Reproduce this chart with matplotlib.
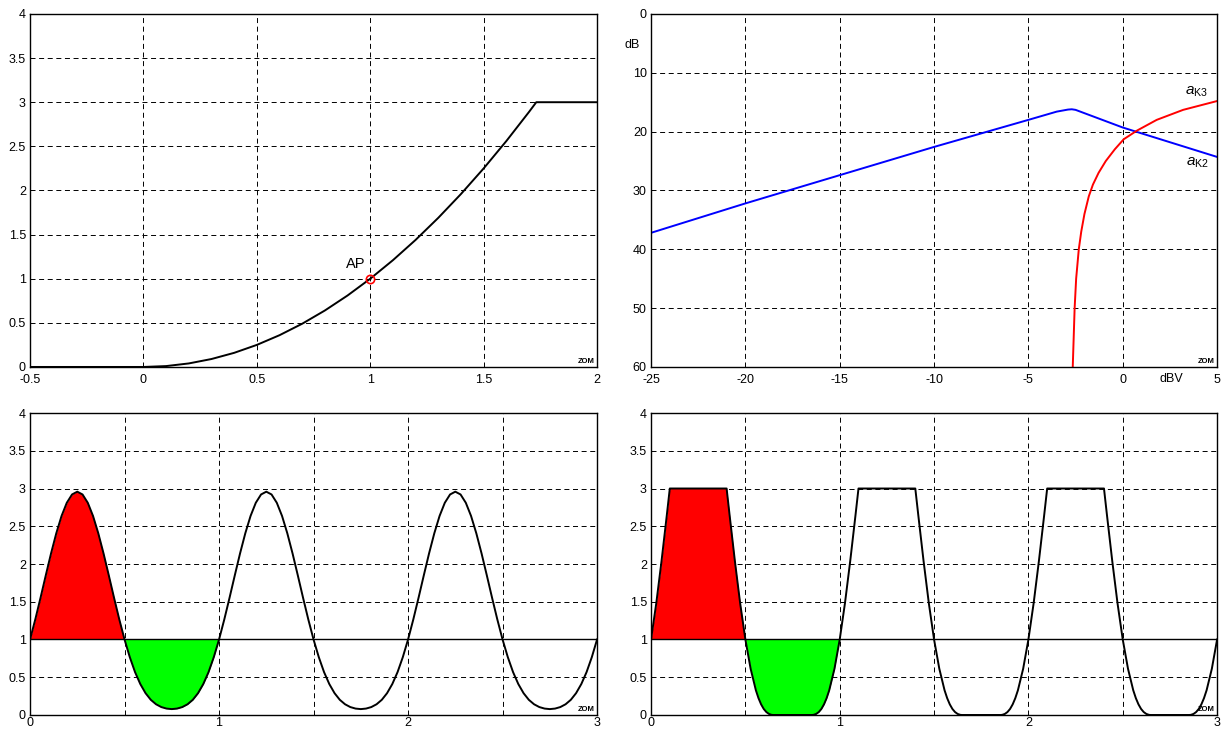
import numpy as np
import matplotlib
matplotlib.use('Agg')
import matplotlib.pyplot as plt

plt.rcParams['font.family'] = ['Liberation Sans', 'DejaVu Sans']
plt.rcParams['font.size'] = 9
plt.rcParams['axes.unicode_minus'] = False
plt.rcParams['lines.scale_dashes'] = False
plt.rcParams['mathtext.fontset'] = 'custom'
plt.rcParams['mathtext.rm'] = 'Liberation Sans'
plt.rcParams['mathtext.it'] = 'Liberation Sans:italic'

# Transfer characteristic (top left)
tl_x = [-0.5, 0.0, 0.1, 0.2, 0.3, 0.4, 0.5, 0.6, 0.7, 0.8, 0.9, 1.0, 1.1, 1.2,
        1.3, 1.4, 1.5, 1.6, 1.7, 1.732, 2.0]
tl_y = [0.0, 0.0, 0.01, 0.04, 0.09, 0.16, 0.25, 0.36, 0.49, 0.64, 0.81, 1.0, 1.21,
        1.44, 1.69, 1.96, 2.25, 2.56, 2.89, 3.0, 3.0]
ap_x, ap_y = 1.0, 1.0

# Distortion vs. level (top right)
ak2_x = [-25, -20, -15, -10, -5, -3.5, -2.9, -2.7, -2.5, -2.0, 0.0, 5.0]
ak2_y = [37.2, 32.2, 27.4, 22.6, 18.0, 16.6, 16.25, 16.2, 16.3, 16.9, 19.3, 24.3]
ak3_x = [-2.65, -2.6, -2.55, -2.47, -2.33, -2.2, -2.03, -1.8, -1.58, -1.28, -0.9,
         -0.42, 0.05, 0.74, 1.8, 3.2, 5.0]
ak3_y = [60, 55, 50, 45, 40, 37, 34, 31, 29, 27, 25, 23, 21.3, 19.85, 18.0, 16.3,
         14.8]

# Output waveform, one period (bottom left), phase in degrees
bl_deg = list(range(0, 360, 10))
bl_val = [1.0, 1.266, 1.553, 1.850, 2.140, 2.407, 2.636, 2.811, 2.921, 2.958,
          2.921, 2.811, 2.636, 2.407, 2.140, 1.850, 1.553, 1.266, 1.0, 0.766,
          0.568, 0.410, 0.289, 0.201, 0.142, 0.105, 0.085, 0.078, 0.085, 0.105,
          0.142, 0.201, 0.289, 0.410, 0.568, 0.766]

# Clipped output waveform, one period (bottom right)
br_deg = [0, 10, 20, 30, 35.8, 144.2, 150, 160, 170, 180, 190, 200, 205, 210, 215,
          220, 225, 230, 233.1, 306.9, 310, 315, 320, 325, 330, 335, 340, 350]
br_val = [1.0, 1.481, 2.038, 2.641, 3.0, 3.0, 2.641, 2.038, 1.481, 1.0, 0.613,
          0.328, 0.223, 0.141, 0.080, 0.039, 0.014, 0.002, 0.0, 0.0, 0.002, 0.014,
          0.039, 0.080, 0.141, 0.223, 0.328, 0.613]
n_periods = 3


def periods(deg, val):
    ph = np.array(deg) / 360.0
    x = np.concatenate([ph + k for k in range(n_periods)] + [[n_periods]])
    y = np.concatenate([val] * n_periods + [[val[0]]])
    return x, y


def style(ax, xpad=5):
    ax.grid(True, color='k', linestyle=(0, (3.6, 2.6)), linewidth=0.7)
    ax.set_axisbelow(True)
    ax.tick_params(length=0, labelsize=9)
    ax.tick_params(axis='x', pad=xpad)
    ax.tick_params(axis='y', pad=3)
    for s in ax.spines.values():
        s.set_linewidth(1.0)
    ax.text(0.995, 0.006, 'ZOM', transform=ax.transAxes, fontsize=5.5,
            ha='right', va='bottom', fontweight='bold')


fig = plt.figure(figsize=(12.21, 7.31), dpi=100)
ax1 = fig.add_axes([0.0246, 0.498, 0.4644, 0.4829])
ax2 = fig.add_axes([0.5332, 0.498, 0.4636, 0.4829])
ax3 = fig.add_axes([0.0246, 0.0219, 0.4644, 0.4131])
ax4 = fig.add_axes([0.5332, 0.0219, 0.4636, 0.4131])

# top left
ax1.plot(tl_x, tl_y, color='k', lw=1.4)
ax1.plot(ap_x, ap_y, 'o', mfc='none', mec='red', ms=6, mew=1.2)
ax1.text(0.935, 1.17, 'AP', fontsize=10.5, ha='center', va='center')
ax1.set_xlim(-0.5, 2)
ax1.set_ylim(0, 4)
ax1.set_xticks(np.arange(-0.5, 2.01, 0.5))
ax1.set_xticklabels(['-0.5', '0', '0.5', '1', '1.5', '2'])
ax1.set_yticks(np.arange(0, 4.01, 0.5))
ax1.set_yticklabels(['0', '0.5', '1', '1.5', '2', '2.5', '3', '3.5', '4'])
style(ax1)

# top right
ax2.plot(ak2_x, ak2_y, color='blue', lw=1.4)
ax2.plot(ak3_x, ak3_y, color='red', lw=1.4)
ax2.set_xlim(-25, 5)
ax2.set_ylim(60, 0)
ax2.set_xticks(range(-25, 6, 5))
ax2.set_yticks(range(0, 61, 10))
ax2.text(3.9, 13.3, r'$a_{\mathrm{K3}}$', fontsize=11, ha='center', va='center')
ax2.text(3.95, 25.3, r'$a_{\mathrm{K2}}$', fontsize=11, ha='center', va='center')
ax2.text(-25.6, 5.3, 'dB', fontsize=9, ha='right', va='center')
ax2.text(2.6, 61.0, 'dBV', fontsize=9, ha='center', va='top')
style(ax2)

# bottom plots
for ax, deg, val in [(ax3, bl_deg, bl_val), (ax4, br_deg, br_val)]:
    x, y = periods(deg, val)
    ax.fill_between(x, y, 1, where=(x <= 0.5), color='#ff0000', lw=0, zorder=2)
    ax.fill_between(x, y, 1, where=(x >= 0.5) & (x <= 1.0), color='#00ff00', lw=0, zorder=2)
    ax.axhline(1, color='k', lw=1.0, zorder=3)
    ax.plot(x, y, color='k', lw=1.4, zorder=4)
    ax.set_xlim(0, 3)
    ax.set_ylim(0, 4)
    ax.set_xticks(np.arange(0, 3.01, 0.5))
    ax.set_xticklabels(['0', '', '1', '', '2', '', '3'])
    ax.set_yticks(np.arange(0, 4.01, 0.5))
    ax.set_yticklabels(['0', '0.5', '1', '1.5', '2', '2.5', '3', '3.5', '4'])
    style(ax, xpad=1.5)

plt.savefig('out.png', dpi=100)
